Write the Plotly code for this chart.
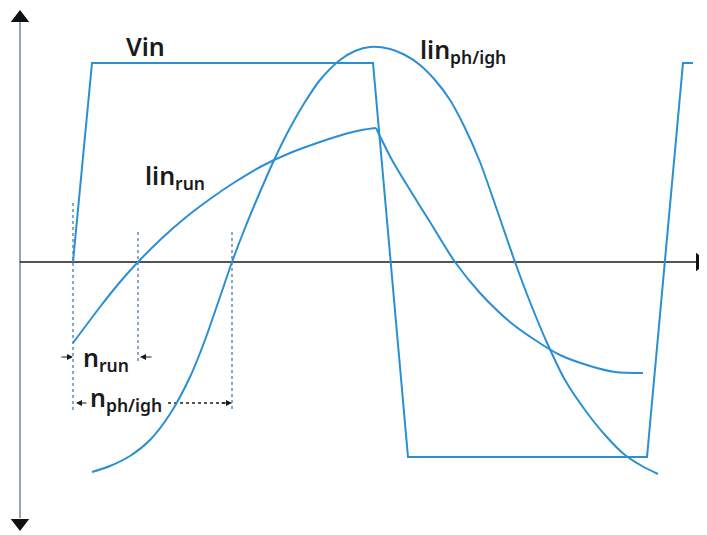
"""
Sketch of input voltage Vin and two line currents (lin_run, lin_ph/igh)
drawn in pixel-like coordinates so the diagram lines up with the reference.
"""
### Step 1 - Importing plotly
import plotly.graph_objects as go

### Step 2 - Curve data
vin_x = [73, 92, 373, 408, 647, 683, 693]
vin_y = [262, 63, 63, 457, 457, 63, 63]

run_up_x = [73, 100, 120, 138, 160, 185, 210, 235, 262, 290, 320, 345, 362, 376]
run_up_y = [343, 307, 282, 262, 240, 218, 199, 182, 166, 153, 142, 134, 130, 128]
run_down_x = [376, 392, 410, 430, 455, 480, 510, 535, 560, 590, 615, 643]
run_down_y = [128, 160, 190, 222, 262, 293, 322, 340, 355, 366, 372, 373]

high_x = [92, 110, 130, 150, 170, 190, 205, 220, 232, 245, 260, 275, 290, 305,
          320, 340, 355, 370, 390, 405, 420, 435, 450, 465, 480, 497, 515, 530,
          548, 565, 585, 605, 625, 642, 658]
high_y = [472, 466, 456, 440, 414, 377, 340, 297, 262, 228, 192, 158, 128, 102,
          80, 60, 51, 47, 49, 55, 65, 80, 100, 128, 162, 210, 262, 302,
          345, 380, 410, 435, 455, 466, 474]

# guide lines for the delays
guide_x = [73, 138, 232]
guide_top = [203, 232, 232]
guide_bottom = [413, 362, 410]

BLUE = '#2b8fd4'
GUIDE = '#5e8fb8'
INK = '#1a1a1a'
FONT = 'Noto Sans'

fig = go.Figure()

### Step 3 - Axes with arrow heads
fig.add_trace(go.Scatter(x=[20, 20], y=[22, 518], mode='lines',
                         line=dict(color='#8ba5bb', width=2)))
fig.add_trace(go.Scatter(x=[20, 697], y=[262, 262], mode='lines',
                         line=dict(color=INK, width=1.6)))
fig.add_trace(go.Scatter(x=[20, 20, 700], y=[18, 523, 262], mode='markers',
                         marker=dict(symbol=['triangle-up', 'triangle-down', 'triangle-right'],
                                     size=16, color='#111111')))

### Step 4 - Dotted guide lines and delay arrows
for gx, gt, gb in zip(guide_x, guide_top, guide_bottom):
    fig.add_trace(go.Scatter(x=[gx, gx], y=[gt, gb], mode='lines',
                             line=dict(color=GUIDE, width=1.5, dash='dot')))
fig.add_trace(go.Scatter(x=[168, 226], y=[403, 403], mode='lines',
                         line=dict(color=INK, width=1.3, dash='dot')))

arrows = [  # (tip x, tail x, y)
    (73, 60, 357),
    (140, 153, 357),
    (76, 88, 403),
    (232, 220, 403),
]
for tip, tail, ay in arrows:
    fig.add_annotation(x=tip, y=ay, ax=tail, ay=ay, xref='x', yref='y',
                       axref='x', ayref='y', text='', showarrow=True,
                       arrowhead=2, arrowsize=1, arrowwidth=1.2, arrowcolor=INK)

### Step 5 - The three curves
fig.add_trace(go.Scatter(x=vin_x, y=vin_y, mode='lines',
                         line=dict(color=BLUE, width=2)))
for cx, cy in [(run_up_x, run_up_y), (run_down_x, run_down_y), (high_x, high_y)]:
    fig.add_trace(go.Scatter(x=cx, y=cy, mode='lines', line_shape='spline',
                             line=dict(color=BLUE, width=2, smoothing=0.8)))

### Step 6 - Labels
labels = [
    ('Vin', 124, 46),
    ('lin<sub>ph/igh</sub>', 418, 50),
    ('lin<sub>run</sub>', 143, 176),
    ('n<sub>run</sub>', 81, 358),
    ('n<sub>ph/igh</sub>', 88, 398),
    ('t', 702, 284),
]
for txt, lx, ly in labels:
    fig.add_annotation(x=lx, y=ly, xref='x', yref='y', text=txt, showarrow=False,
                       xanchor='left', yanchor='middle',
                       font=dict(family=FONT, size=25, color=INK, weight=600))

# the page body has an 8px margin, so the ranges are shifted to compensate
fig.update_layout(
    width=707, height=535,
    margin=dict(l=0, r=0, t=0, b=0),
    paper_bgcolor='white', plot_bgcolor='white',
    showlegend=False,
    xaxis=dict(range=[8, 715], visible=False, fixedrange=True),
    yaxis=dict(range=[543, 8], visible=False, fixedrange=True),
)

fig.write_html("out.html")
